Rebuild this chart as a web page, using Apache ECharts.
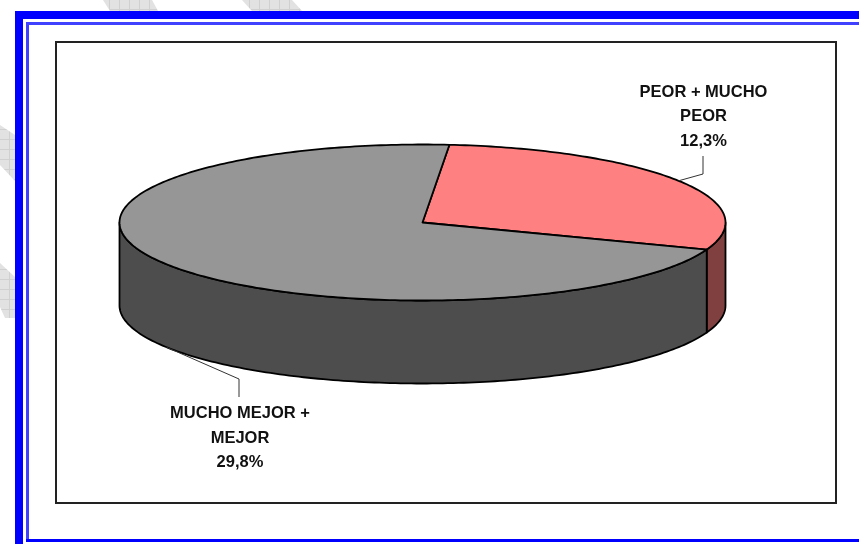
<!DOCTYPE html>
<html>
<head>
<meta charset="utf-8">
<style>
html, body { margin: 0; padding: 0; background: #fff; }
#chart { width: 859px; height: 544px; }
</style>
<script src="https://cdn.jsdelivr.net/npm/echarts@6/dist/echarts.min.js"></script>
</head>
<body>
<div id="chart"></div>
<script>
const categories = ['PEOR + MUCHO\nPEOR', 'MUCHO MEJOR +\nMEJOR'];
const values = [12.3, 29.8];

const topColors = ['#FF8080', '#969696'];
const sideColors = ['#804040', '#4D4D4D'];

// geometria del queso
const CX = 422.5, CY = 222.5, RX = 303, RY = 78, DEPTH = 83;
const START_DEG = 5.1;
const total = values.reduce((a, b) => a + b, 0);

function pt(deg, dy) {
    const r = deg * Math.PI / 180;
    return [CX + RX * Math.sin(r), CY - RY * Math.cos(r) + (dy || 0)];
}

function arc(from, to, dy) {
    const pts = [];
    const n = Math.max(2, Math.ceil(Math.abs(to - from)));
    for (let i = 0; i <= n; i++) {
        pts.push(pt(from + (to - from) * i / n, dy));
    }
    return pts;
}

// etiquetas: codo de la linea guia y posicion del texto
const labelStyle = [
    { elbow: [703, 174], end: [703, 156], text: [703.5, 116.5] },
    { elbow: [239, 379], end: [239, 397], text: [240, 438] }
];

function renderSlice(params) {
    const i = params.dataIndex;
    const before = values.slice(0, i).reduce((a, b) => a + b, 0);
    const a0 = START_DEG + before / total * 360;
    const a1 = a0 + values[i] / total * 360;
    const mid = (a0 + a1) / 2;
    const children = [];

    // pared lateral, solo la parte que mira al frente (90-270)
    const s0 = Math.max(a0, 90), s1 = Math.min(a1, 270);
    if (s1 > s0) {
        children.push({
            type: 'polygon',
            shape: { points: arc(s0, s1, 0).concat(arc(s1, s0, DEPTH)) },
            style: { fill: sideColors[i], stroke: '#000', lineWidth: 1.8, lineJoin: 'round' }
        });
    }

    // cara superior
    children.push({
        type: 'polygon',
        shape: { points: [[CX, CY]].concat(arc(a0, a1, 0)) },
        style: { fill: topColors[i], stroke: '#000', lineWidth: 1.8, lineJoin: 'round' }
    });

    // linea guia
    const isFront = mid > 90 && mid < 270;
    const ls = labelStyle[i];
    children.push({
        type: 'polyline',
        shape: { points: [pt(mid, isFront ? DEPTH : 0), ls.elbow, ls.end] },
        style: { fill: null, stroke: '#333', lineWidth: 1 }
    });

    children.push({
        type: 'text',
        style: {
            text: categories[i] + '\n' + values[i].toFixed(1).replace('.', ',') + '%',
            x: ls.text[0],
            y: ls.text[1],
            align: 'center',
            verticalAlign: 'middle',
            fontFamily: 'Liberation Sans',
            fontWeight: 'bold',
            fontSize: 16.5,
            lineHeight: 24.5,
            fill: '#111'
        }
    });

    return { type: 'group', children: children };
}

// trama gris del fondo de la diapositiva
function hatchPattern() {
    const c = document.createElement('canvas');
    c.width = 10;
    c.height = 10;
    const g = c.getContext('2d');
    g.fillStyle = '#E2E2E2';
    g.fillRect(0, 0, 10, 10);
    g.fillStyle = '#D0D0D0';
    g.fillRect(9, 0, 1, 10);
    g.fillRect(0, 9, 10, 1);
    return { image: c, repeat: 'repeat' };
}

const hatch = hatchPattern();
function stripe(points) {
    return { type: 'polygon', shape: { points: points }, style: { fill: hatch }, silent: true };
}
function box(x, y, w, h, fill) {
    return { type: 'rect', shape: { x: x, y: y, width: w, height: h }, style: { fill: fill }, silent: true };
}

var dom = document.getElementById('chart');
var myChart = echarts.init(dom, null, { renderer: 'canvas' });

myChart.setOption({
    animation: false,
    backgroundColor: '#fff',
    graphic: {
        elements: [
            stripe([[103, 0], [152, 0], [158, 11], [110, 11]]),
            stripe([[242, 0], [292, 0], [302, 11], [252, 11]]),
            stripe([[0, 125], [15, 135], [15, 181], [0, 165]]),
            stripe([[0, 263], [15, 277], [15, 318], [5, 318], [0, 307]]),
            box(15, 11, 844, 8, '#0000FF'),
            box(15, 11, 8, 533, '#0000FF'),
            box(26, 22, 833, 3, '#4040FF'),
            box(26, 22, 3, 520, '#4040FF'),
            box(26, 539, 833, 3, '#0000FF'),
            {
                type: 'rect',
                shape: { x: 56, y: 42, width: 780, height: 461 },
                style: { fill: '#fff', stroke: '#222', lineWidth: 2 },
                silent: true
            }
        ]
    },
    series: [
        {
            type: 'custom',
            coordinateSystem: 'none',
            renderItem: renderSlice,
            data: values,
            silent: true
        }
    ]
});
</script>
</body>
</html>
